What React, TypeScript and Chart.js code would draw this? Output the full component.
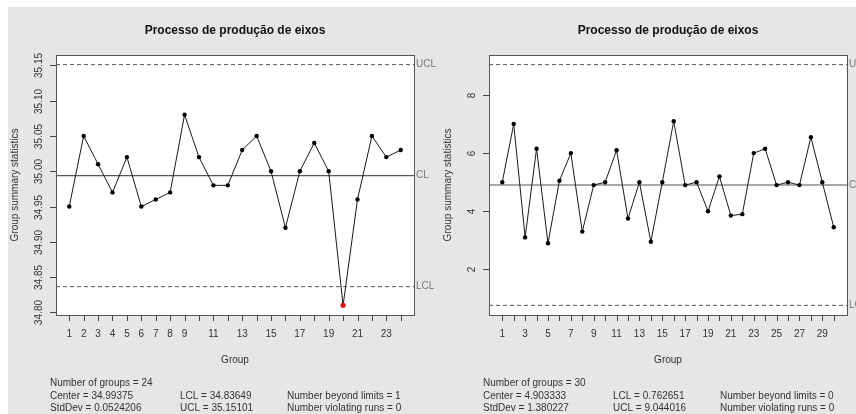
import React, { useEffect, useRef } from "react";
import { Chart, registerables } from "chart.js";

Chart.register(...registerables);

const chartTitle = "Processo de produção de eixos";
const yAxisTitle = "Group summary statistics";
const xAxisTitle = "Group";

// Left chart (24 groups)
const leftValues = [
  34.95, 35.05, 35.01, 34.97, 35.02, 34.95, 34.96, 34.97, 35.08, 35.02, 34.98, 34.98,
  35.03, 35.05, 35.0, 34.92, 35.0, 35.04, 35.0, 34.81, 34.96, 35.05, 35.02, 35.03,
];
const leftCenter = 34.99375;
const leftLCL = 34.83649;
const leftUCL = 35.15101;
const leftYTicks = [34.8, 34.85, 34.9, 34.95, 35.0, 35.05, 35.1, 35.15];
const leftYTickLabels = ["34.80", "34.85", "34.90", "34.95", "35.00", "35.05", "35.10", "35.15"];
const leftXTickLabels = [1, 2, 3, 4, 5, 6, 7, 8, 9, 11, 13, 15, 17, 19, 21, 23];
const leftStatsCol1 = ["Number of groups = 24", "Center = 34.99375", "StdDev = 0.0524206"];
const leftStatsCol2 = ["", "LCL = 34.83649", "UCL = 35.15101"];
const leftStatsCol3 = ["", "Number beyond limits = 1", "Number violating runs = 0"];

// Right chart (30 groups)
const rightValues = [
  5.0, 7.0, 3.1, 6.15, 2.9, 5.05, 6.0, 3.3, 4.9, 5.0, 6.1, 3.75, 5.0, 2.95, 5.0,
  7.1, 4.9, 5.0, 4.0, 5.2, 3.85, 3.9, 6.0, 6.15, 4.9, 5.0, 4.9, 6.55, 5.0, 3.45,
];
const rightCenter = 4.903333;
const rightLCL = 0.762651;
const rightUCL = 9.044016;
const rightYTicks = [2, 4, 6, 8];
const rightYTickLabels = ["2", "4", "6", "8"];
const rightXTickLabels = [1, 3, 5, 7, 9, 11, 13, 15, 17, 19, 21, 23, 25, 27, 29];
const rightStatsCol1 = ["Number of groups = 30", "Center = 4.903333", "StdDev = 1.380227"];
const rightStatsCol2 = ["", "LCL = 0.762651", "UCL = 9.044016"];
const rightStatsCol3 = ["", "Number beyond limits = 0", "Number violating runs = 0"];

const FONT = "'Liberation Sans', Arial, Helvetica, sans-serif";

type PanelCfg = {
  values: number[];
  center: number;
  lcl: number;
  ucl: number;
  yTicks: number[];
  yTickLabels: string[];
  xTickLabels: number[];
  stats: string[][];
  width: number;
  padding: { left: number; right: number; top: number; bottom: number };
};

function makePlugin(cfg: PanelCfg) {
  return {
    id: "rqcc",
    beforeDraw(chart: any) {
      const { ctx, chartArea: a } = chart;
      ctx.save();
      ctx.fillStyle = "#ffffff";
      ctx.fillRect(a.left, a.top, a.right - a.left, a.bottom - a.top);
      ctx.restore();
    },
    afterDraw(chart: any) {
      const { ctx, chartArea: a } = chart;
      const xs = chart.scales.x;
      const ys = chart.scales.y;
      const n = cfg.values.length;
      ctx.save();
      // frame
      ctx.strokeStyle = "#555555";
      ctx.lineWidth = 1;
      ctx.strokeRect(Math.round(a.left) + 0.5, Math.round(a.top) + 0.5, Math.round(a.right - a.left), Math.round(a.bottom - a.top));

      // y ticks
      ctx.strokeStyle = "#444444";
      ctx.fillStyle = "#333333";
      ctx.font = `10px ${FONT}`;
      cfg.yTicks.forEach((v, i) => {
        const y = Math.round(ys.getPixelForValue(v)) + 0.5;
        ctx.beginPath();
        ctx.moveTo(a.left - 6, y);
        ctx.lineTo(a.left, y);
        ctx.stroke();
        ctx.save();
        ctx.translate(a.left - 17, y);
        ctx.rotate(-Math.PI / 2);
        ctx.textAlign = "center";
        ctx.textBaseline = "middle";
        ctx.fillText(cfg.yTickLabels[i], 0, 0);
        ctx.restore();
      });

      // x ticks
      for (let g = 1; g <= n; g++) {
        const x = Math.round(xs.getPixelForValue(g)) + 0.5;
        ctx.beginPath();
        ctx.moveTo(x, a.bottom);
        ctx.lineTo(x, a.bottom + 6);
        ctx.stroke();
      }
      ctx.textAlign = "center";
      ctx.textBaseline = "middle";
      cfg.xTickLabels.forEach((g) => {
        const x = xs.getPixelForValue(g);
        ctx.fillText(String(g), x, a.bottom + 19);
      });

      // axis titles
      ctx.fillText(xAxisTitle, (a.left + a.right) / 2, a.bottom + 45);
      ctx.save();
      ctx.translate(a.left - 41, (a.top + a.bottom) / 2);
      ctx.rotate(-Math.PI / 2);
      ctx.fillText(yAxisTitle, 0, 0);
      ctx.restore();

      // title
      ctx.fillStyle = "#111111";
      ctx.font = `bold 12px ${FONT}`;
      ctx.fillText(chartTitle, (a.left + a.right) / 2, 31);

      // limit labels
      ctx.fillStyle = "#777777";
      ctx.font = `10px ${FONT}`;
      ctx.textAlign = "left";
      ctx.fillText("UCL", a.right + 2, ys.getPixelForValue(cfg.ucl));
      ctx.fillText("CL", a.right + 2, ys.getPixelForValue(cfg.center));
      ctx.fillText("LCL", a.right + 2, ys.getPixelForValue(cfg.lcl));

      // stats
      ctx.fillStyle = "#333333";
      const colX = [a.left - 6, a.left + 124, a.left + 231];
      const rowY = [383, 396, 408];
      cfg.stats.forEach((col, ci) => {
        col.forEach((t, ri) => {
          if (t) ctx.fillText(t, colX[ci], rowY[ri]);
        });
      });
      ctx.restore();
    },
  };
}

function Panel({ cfg, left }: { cfg: PanelCfg; left: number }) {
  const ref = useRef<HTMLCanvasElement | null>(null);
  useEffect(() => {
    if (!ref.current) return;
    const n = cfg.values.length;
    const xMin = 1 - (n - 1) * 0.04;
    const xMax = n + (n - 1) * 0.04;
    const lo = Math.min(...cfg.values, cfg.lcl);
    const hi = Math.max(...cfg.values, cfg.ucl);
    const pad = (hi - lo) * 0.04;
    const pts = cfg.values.map((v, i) => ({ x: i + 1, y: v }));
    const outside = cfg.values.map((v) => v > cfg.ucl || v < cfg.lcl);
    const colors = outside.map((o) => (o ? "#dd1111" : "#000000"));
    const radii = outside.map((o) => (o ? 2.6 : 2.2));
    const chart = new Chart(ref.current, {
      type: "line",
      data: {
        datasets: [
          {
            data: pts,
            borderColor: "#1a1a1a",
            borderWidth: 1,
            pointRadius: radii,
            pointBackgroundColor: colors,
            pointBorderColor: colors,
            pointBorderWidth: 0,
            tension: 0,
          },
          {
            data: [
              { x: xMin, y: cfg.center },
              { x: xMax, y: cfg.center },
            ],
            borderColor: "#555555",
            borderWidth: 1.2,
            pointRadius: 0,
          },
          {
            data: [
              { x: xMin, y: cfg.ucl },
              { x: xMax, y: cfg.ucl },
            ],
            borderColor: "#555555",
            borderWidth: 1,
            borderDash: [4, 3],
            pointRadius: 0,
          },
          {
            data: [
              { x: xMin, y: cfg.lcl },
              { x: xMax, y: cfg.lcl },
            ],
            borderColor: "#555555",
            borderWidth: 1,
            borderDash: [4, 3],
            pointRadius: 0,
          },
        ],
      },
      options: {
        animation: false,
        responsive: false,
        events: [],
        layout: { padding: cfg.padding },
        plugins: { legend: { display: false }, tooltip: { enabled: false } },
        scales: {
          x: { type: "linear", min: xMin, max: xMax, display: false },
          y: { type: "linear", min: lo - pad, max: hi + pad, display: false },
        },
      },
      plugins: [makePlugin(cfg)],
    } as any);
    return () => chart.destroy();
  }, [cfg]);
  return (
    <canvas
      ref={ref}
      width={cfg.width}
      height={414}
      style={{ position: "absolute", left, top: 0, width: cfg.width, height: 414 }}
    />
  );
}

const leftCfg: PanelCfg = {
  values: leftValues,
  center: leftCenter,
  lcl: leftLCL,
  ucl: leftUCL,
  yTicks: leftYTicks,
  yTickLabels: leftYTickLabels,
  xTickLabels: leftXTickLabels,
  stats: [leftStatsCol1, leftStatsCol2, leftStatsCol3],
  width: 445,
  padding: { left: 56, right: 31, top: 55, bottom: 99 },
};

const rightCfg: PanelCfg = {
  values: rightValues,
  center: rightCenter,
  lcl: rightLCL,
  ucl: rightUCL,
  yTicks: rightYTicks,
  yTickLabels: rightYTickLabels,
  xTickLabels: rightXTickLabels,
  stats: [rightStatsCol1, rightStatsCol2, rightStatsCol3],
  width: 426,
  padding: { left: 59, right: 9, top: 55, bottom: 99 },
};

export default function App() {
  return (
    <div style={{ position: "fixed", left: 0, top: 0, width: 856, height: 414, background: "#ffffff", overflow: "hidden" }}>
      <div style={{ position: "absolute", left: 8, top: 7, right: 0, bottom: 0, background: "#e6e6e6" }} />
      <Panel cfg={leftCfg} left={0} />
      <Panel cfg={rightCfg} left={430} />
    </div>
  );
}
